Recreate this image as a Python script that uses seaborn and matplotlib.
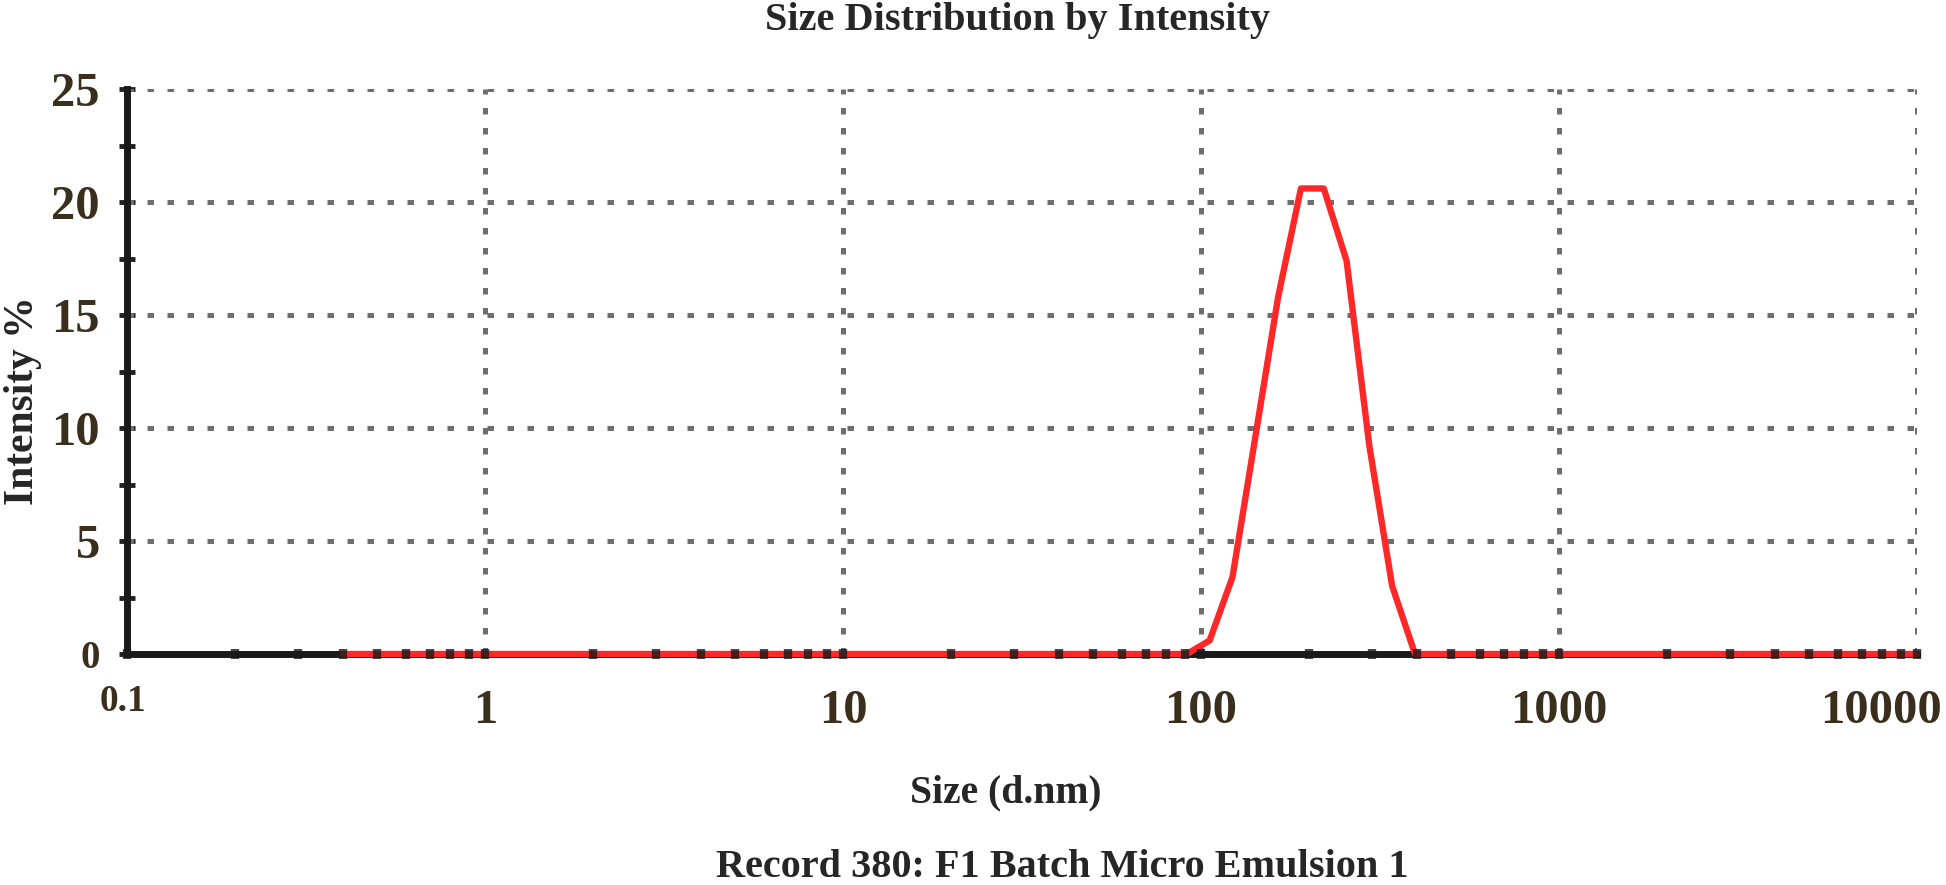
import numpy as np
import pandas as pd
import matplotlib
matplotlib.use("Agg")
import matplotlib.pyplot as plt
import matplotlib.ticker as ticker
import matplotlib.transforms as mtransforms
import seaborn as sns

# ── Data ──────────────────────────────────────────────────────────────────────
size_nm = [0.4, 91.28, 105.7, 122.4, 141.8, 164.2, 190.1, 220.2, 255.0,
           295.3, 342.0, 396.1, 10000]
intensity_pct = [0, 0, 0.6, 3.4, 9.6, 15.8, 20.6, 20.6, 17.4,
                 9.2, 3.0, 0, 0]

x_ticks = [0.1, 1, 10, 100, 1000, 10000]
x_tick_labels = ["0.1", "1", "10", "100", "1000", "10000"]
y_ticks = [0, 5, 10, 15, 20, 25]
y_tick_labels = ["0", "5", "10", "15", "20", "25"]

TITLE = "Size Distribution by Intensity"
X_LABEL = "Size (d.nm)"
Y_LABEL = "Intensity %"
RECORD = "Record 380: F1 Batch Micro Emulsion 1"

# ── Style ─────────────────────────────────────────────────────────────────────
sns.set_theme(style="white")
plt.rcParams["font.family"] = ["Liberation Serif", "DejaVu Serif"]
plt.rcParams["font.weight"] = "bold"

TICK_COLOR = "#3a2e1c"
GRID_KW = dict(color="#6e6e6e", lw=3.6, ls=(0, (1.3, 2.7)), zorder=1)

df = pd.DataFrame({"size": size_nm, "intensity": intensity_pct})

fig = plt.figure(figsize=(19.46, 8.85), dpi=100)
ax = fig.add_axes([0.0653, 0.261, 0.9198, 0.6384])

# dotted grid
for yv in y_ticks[1:]:
    ax.axhline(yv, **GRID_KW)
for xv in x_ticks[1:]:
    ax.axvline(xv, **GRID_KW)

sns.lineplot(data=df, x="size", y="intensity", ax=ax, color="#ff2828",
             lw=4.6, zorder=5, clip_on=False, solid_joinstyle="round",
             solid_capstyle="round")

ax.set_xscale("log")
ax.set_xlim(0.1, 10000)
ax.set_ylim(0, 25)

for s in ["top", "right"]:
    ax.spines[s].set_visible(False)
for s in ["left", "bottom"]:
    ax.spines[s].set_linewidth(5)
    ax.spines[s].set_color("#1a1a1a")
    ax.spines[s].set_zorder(3)

ax.set_xticks(x_ticks)
ax.set_xticklabels(x_tick_labels)
ax.xaxis.set_minor_locator(ticker.LogLocator(base=10, subs=np.arange(2, 10)))
ax.xaxis.set_minor_formatter(ticker.NullFormatter())
ax.set_yticks(y_ticks)
ax.set_yticklabels(y_tick_labels)
ax.yaxis.set_minor_locator(ticker.MultipleLocator(2.5))

ax.tick_params(axis="x", which="both", direction="inout", length=7, width=6,
               color=(0.1, 0.1, 0.1, 0.8), bottom=True, pad=22)
ax.tick_params(axis="y", which="both", direction="inout", length=11, width=3.5,
               color="#222222", left=True, pad=14)
ax.xaxis.set_zorder(6)

for i, lab in enumerate(ax.get_xticklabels()):
    lab.set_color(TICK_COLOR)
    lab.set_fontweight("bold")
    lab.set_fontsize(27 if i == 0 else 35)
    if i == 0:
        lab.set_transform(lab.get_transform() + mtransforms.ScaledTranslation(-0.04, 0.05, fig.dpi_scale_trans))
    if i == len(x_ticks) - 1:
        lab.set_transform(lab.get_transform() + mtransforms.ScaledTranslation(-0.36, 0, fig.dpi_scale_trans))
for i, lab in enumerate(ax.get_yticklabels()):
    lab.set_color(TICK_COLOR)
    lab.set_fontweight("bold")
    lab.set_fontsize(28 if i == 0 else 35)

ax.set_xlabel("")
ax.set_ylabel("")

fig.text(0.523, 0.966, TITLE, ha="center", va="baseline", fontsize=29, fontweight="bold")
fig.text(0.517, 0.093, X_LABEL, ha="center", va="baseline", fontsize=28.5, fontweight="bold")
fig.text(0.546, 0.009, RECORD, ha="center", va="baseline", fontsize=29, fontweight="bold")
fig.text(0.012, 0.547, Y_LABEL, ha="center", va="center", rotation=90,
         fontsize=30, fontweight="bold")

fig.savefig("out.png", dpi=100)
